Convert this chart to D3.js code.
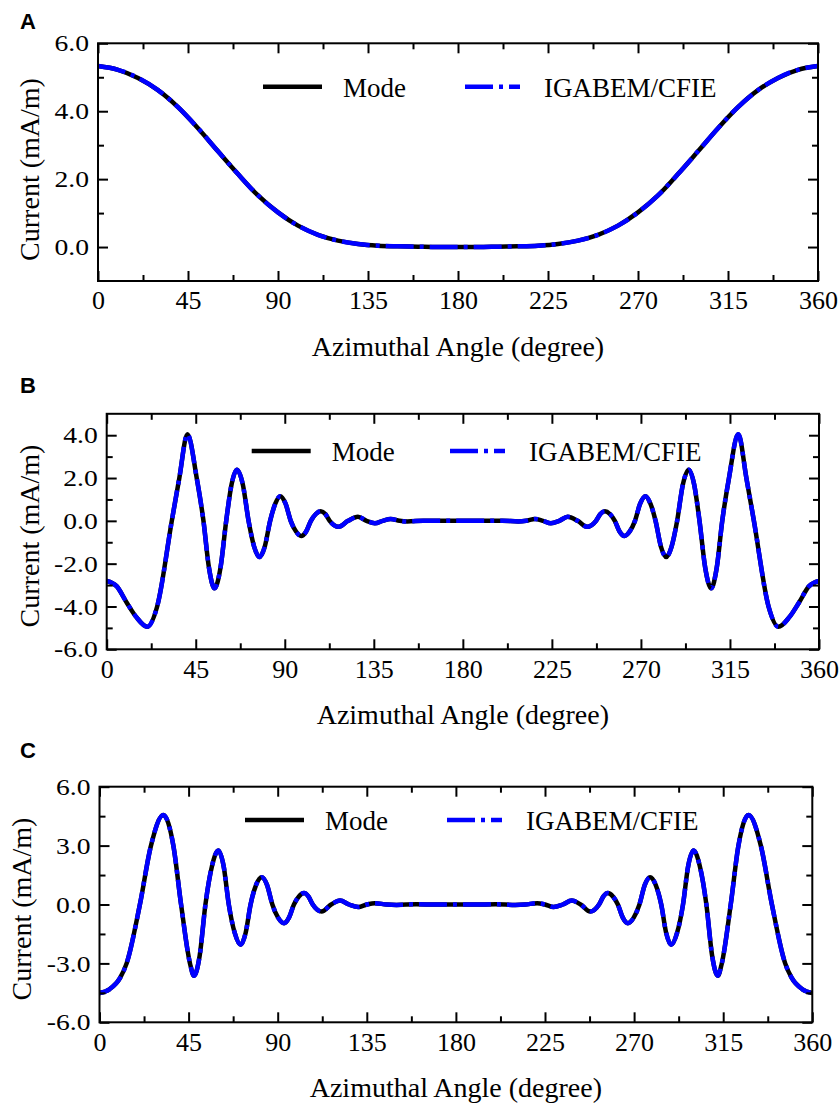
<!DOCTYPE html>
<html>
<head>
<meta charset="utf-8">
<script src="https://cdn.jsdelivr.net/npm/d3@7"></script>
<style>
  html, body { margin: 0; padding: 0; background: #fff; }
  svg { display: block; }
</style>
</head>
<body>
<svg id="fig" width="840" height="1106"></svg>
<script>
// Surface current density along the azimuthal angle for three cases (A, B, C):
// modal (analytical) solution vs. IGABEM/CFIE solution.

const seriesNames = ["Mode", "IGABEM/CFIE"];
const panelLetters = ["A", "B", "C"];
const xTitle = "Azimuthal Angle (degree)";
const yTitle = "Current (mA/m)";

const xTicks = [0, 45, 90, 135, 180, 225, 270, 315, 360];
const xMinorTicks = [22.5, 67.5, 112.5, 157.5, 202.5, 247.5, 292.5, 337.5];

// ---- Case A ----
const angleA = [0, 10, 20, 30, 40, 50, 60, 70, 80, 90, 100, 110, 120, 130, 140, 150, 160, 170, 180,
                190, 200, 210, 220, 230, 240, 250, 260, 270, 280, 290, 300, 310, 320, 330, 340, 350, 360];
const modeA  = [5.33, 5.22, 4.98, 4.62, 4.12, 3.50, 2.82, 2.15, 1.52, 1.02, 0.63, 0.36, 0.19, 0.09, 0.04, 0.02, 0.01, 0.00, 0.00,
                0.00, 0.01, 0.02, 0.04, 0.09, 0.19, 0.36, 0.63, 1.02, 1.52, 2.15, 2.82, 3.50, 4.12, 4.62, 4.98, 5.22, 5.33];
const igabemA = modeA;   // the two solutions coincide to plotting accuracy
const yDomainA = [-1, 6];
const yTicksA = [0, 2, 4, 6];
const yMinorA = [1, 3, 5];

// ---- Case B ----
const angleB = [0, 5, 10, 15, 20.5, 25.5, 32.9, 36.7, 40.8, 45.5, 48.9, 51.7, 54.5, 57.5, 60.4, 63.1, 65.8, 68.8,
                71.7, 74.5, 77.2, 79.9, 82.6, 85.2, 87.7, 90.4, 93.0, 95.7, 98.3, 100.8, 103.2, 105.7, 108.2, 110.5,
                112.7, 117.2, 122.0, 127.0, 131.3, 135.5, 139.5, 143.5, 148, 152, 160, 170, 180,
                190, 200, 208, 212, 216.5, 220.5, 224.5, 228.7, 233, 238, 242.8, 247.3,
                249.5, 251.8, 254.3, 256.8, 259.2, 261.7, 264.3, 267, 269.6, 272.3, 274.8, 277.4, 280.1, 282.8, 285.5, 288.3,
                291.2, 294.2, 296.9, 299.6, 302.5, 305.5, 308.3, 311.1, 314.5, 319.2, 323.3, 327.1, 334.5, 339.5, 345, 350, 355, 360];
const modeB  = [-2.81, -3.05, -3.80, -4.50, -4.95, -4.00, 0, 2.00, 4.05, 2.00, 0, -2.20, -3.15, -2.20, 0, 1.70, 2.39, 1.70,
                0, -1.20, -1.69, -1.20, 0, 0.80, 1.15, 0.80, 0, -0.50, -0.71, -0.50, 0, 0.32, 0.45, 0.32,
                0, -0.28, 0, 0.19, 0, -0.11, 0, 0.09, 0, -0.03, 0.01, 0, 0,
                0, 0.01, -0.03, 0, 0.09, 0, -0.11, 0, 0.19, 0, -0.28, 0,
                0.32, 0.45, 0.32, 0, -0.50, -0.71, -0.50, 0, 0.80, 1.15, 0.80, 0, -1.20, -1.69, -1.20, 0,
                1.70, 2.39, 1.70, 0, -2.20, -3.15, -2.20, 0, 2.00, 4.05, 2.00, 0, -4.00, -4.95, -4.50, -3.80, -3.05, -2.81];
const igabemB = modeB;
const yDomainB = [-6, 5];
const yTicksB = [-6, -4, -2, 0, 2, 4];
const yMinorB = [-5, -3, -1, 1, 3];

// ---- Case C ----
const angleC = [0, 5, 10.4, 13.7, 20.4, 26.0, 32.2, 37.3, 41.2, 45.7, 47.7, 50.6, 53.5, 56.8, 60.0, 62.7,
                65.3, 68.3, 71.3, 73.8, 76.3, 79.1, 81.9, 84.6, 87.3, 90.2, 93.2, 95.7, 98.2, 100.7, 103.3, 105.5,
                107.7, 112.2, 117.0, 121.5, 126.0, 130.7, 135.0, 139.0, 145, 150, 160, 170, 180,
                190, 200, 210, 215, 221, 225, 229.3, 234, 238.5, 243, 247.8, 252.3,
                254.5, 256.7, 259.3, 261.8, 264.3, 266.8, 269.8, 272.7, 275.4, 278.1, 280.9, 283.7, 286.2, 288.7, 291.7, 294.7,
                297.3, 300, 303.2, 306.5, 309.4, 312.3, 314.3, 318.8, 322.7, 327.8, 334, 339.6, 346.3, 349.6, 355, 360];
const modeC  = [-4.51, -4.32, -3.74, -3.00, 0, 3.00, 4.56, 3.00, 0, -3.00, -3.63, -2.60, 0, 1.95, 2.75, 1.95,
                0, -1.45, -2.05, -1.45, 0, 1.00, 1.39, 1.00, 0, -0.67, -0.95, -0.67, 0, 0.41, 0.58, 0.41,
                0, -0.36, 0, 0.20, 0, -0.13, 0, 0.07, 0, -0.02, 0.01, 0, 0,
                0, 0.01, -0.02, 0, 0.07, 0, -0.13, 0, 0.20, 0, -0.36, 0,
                0.41, 0.58, 0.41, 0, -0.67, -0.95, -0.67, 0, 1.00, 1.39, 1.00, 0, -1.45, -2.05, -1.45, 0,
                1.95, 2.75, 1.95, 0, -2.60, -3.63, -3.00, 0, 3.00, 4.56, 3.00, 0, -3.00, -3.74, -4.32, -4.51];
const igabemC = modeC;
const yDomainC = [-6, 6];
const yTicksC = [-6, -3, 0, 3, 6];
const yMinorC = [-4.5, -1.5, 1.5, 4.5];

// ---- layout & styles ----
const COLOR_MODE = "#000000";
const COLOR_IGA = "#0000ff";
const SERIF = "'Liberation Serif', 'Times New Roman', Times, serif";
const SANS = "'Liberation Sans', Arial, Helvetica, sans-serif";

const panels = [
  { letter: panelLetters[0], angle: angleA, mode: modeA, iga: igabemA, yDomain: yDomainA, yTicks: yTicksA, yMinor: yMinorA,
    left: 98, right: 818, top: 43.3, bottom: 281, letterY: 28.5, yTitleX: 38.5, yTitleY: 169.5,
    legY: 86.7, legBlackX: 263, legBlueX: 465 },
  { letter: panelLetters[1], angle: angleB, mode: modeB, iga: igabemB, yDomain: yDomainB, yTicks: yTicksB, yMinor: yMinorB,
    left: 106.7, right: 819, top: 413.8, bottom: 649.3, letterY: 393.3, yTitleX: 38.5, yTitleY: 536,
    legY: 451, legBlackX: 251.7, legBlueX: 450 },
  { letter: panelLetters[2], angle: angleC, mode: modeC, iga: igabemC, yDomain: yDomainC, yTicks: yTicksC, yMinor: yMinorC,
    left: 99.5, right: 812.3, top: 786.7, bottom: 1022.3, letterY: 758.3, yTitleX: 30.5, yTitleY: 909,
    legY: 820, legBlackX: 245, legBlueX: 447 }
];

const svg = d3.select("#fig");
const fmt = d => d.toFixed(1);

panels.forEach(p => {
  const x = d3.scaleLinear().domain([0, 360]).range([p.left, p.right]);
  const y = d3.scaleLinear().domain(p.yDomain).range([p.bottom, p.top]);
  const g = svg.append("g");

  // panel letter
  g.append("text")
    .attr("x", 20).attr("y", p.letterY)
    .attr("font-family", SANS).attr("font-weight", "bold").attr("font-size", 22)
    .text(p.letter);

  // curves: modal solution (solid black) under IGABEM/CFIE (blue dash-dot)
  const pts = p.angle.map((a, i) => [a, p.mode[i]]);
  const ptsIga = p.angle.map((a, i) => [a, p.iga[i]]);
  const line = d3.line().x(d => x(d[0])).y(d => y(d[1])).curve(d3.curveMonotoneX);

  g.append("path").datum(pts).attr("d", line)
    .attr("fill", "none").attr("stroke", COLOR_MODE).attr("stroke-width", 4.5);
  g.append("path").datum(ptsIga).attr("d", line)
    .attr("fill", "none").attr("stroke", COLOR_IGA).attr("stroke-width", 4.5)
    .attr("stroke-dasharray", "28,6,4,6");

  // axes: ticks point inward on all four sides
  const styleAxis = sel => {
    sel.select(".domain").remove();
    sel.selectAll(".tick line").attr("stroke", "#000").attr("stroke-width", 2);
  };
  const xAxisB = g.append("g").attr("transform", `translate(0,${p.bottom})`)
    .call(d3.axisBottom(x).tickValues(xTicks).tickSize(-10).tickSizeOuter(0).tickPadding(10).tickFormat(d3.format("d")))
    .call(styleAxis);
  xAxisB.selectAll(".tick text").attr("font-family", SERIF).attr("font-size", 26).attr("fill", "#000");
  g.append("g").attr("transform", `translate(0,${p.bottom})`)
    .call(d3.axisBottom(x).tickValues(xMinorTicks).tickSize(-6).tickSizeOuter(0).tickFormat(""))
    .call(styleAxis);
  g.append("g").attr("transform", `translate(0,${p.top})`)
    .call(d3.axisTop(x).tickValues(xTicks).tickSize(-10).tickSizeOuter(0).tickFormat(""))
    .call(styleAxis);
  g.append("g").attr("transform", `translate(0,${p.top})`)
    .call(d3.axisTop(x).tickValues(xMinorTicks).tickSize(-6).tickSizeOuter(0).tickFormat(""))
    .call(styleAxis);

  const yAxisL = g.append("g").attr("transform", `translate(${p.left},0)`)
    .call(d3.axisLeft(y).tickValues(p.yTicks).tickSize(-10).tickSizeOuter(0).tickPadding(9).tickFormat(fmt))
    .call(styleAxis);
  yAxisL.selectAll(".tick text")
    .attr("font-family", SERIF).attr("font-size", 24).attr("fill", "#000")
    .attr("lengthAdjust", "spacingAndGlyphs")
    .attr("textLength", function () { return this.getComputedTextLength() * 1.15; });
  g.append("g").attr("transform", `translate(${p.left},0)`)
    .call(d3.axisLeft(y).tickValues(p.yMinor).tickSize(-6).tickSizeOuter(0).tickFormat(""))
    .call(styleAxis);
  g.append("g").attr("transform", `translate(${p.right},0)`)
    .call(d3.axisRight(y).tickValues(p.yTicks).tickSize(-10).tickSizeOuter(0).tickFormat(""))
    .call(styleAxis);
  g.append("g").attr("transform", `translate(${p.right},0)`)
    .call(d3.axisRight(y).tickValues(p.yMinor).tickSize(-6).tickSizeOuter(0).tickFormat(""))
    .call(styleAxis);

  // frame
  g.append("rect")
    .attr("x", p.left).attr("y", p.top)
    .attr("width", p.right - p.left).attr("height", p.bottom - p.top)
    .attr("fill", "none").attr("stroke", "#000").attr("stroke-width", 2);

  // axis titles
  g.append("text")
    .attr("x", (p.left + p.right) / 2).attr("y", p.bottom + 75)
    .attr("text-anchor", "middle")
    .attr("font-family", SERIF).attr("font-size", 28)
    .text(xTitle);
  g.append("text")
    .attr("transform", `translate(${p.yTitleX},${p.yTitleY}) rotate(-90)`)
    .attr("text-anchor", "middle")
    .attr("font-family", SERIF).attr("font-size", 28)
    .text(yTitle);

  // legend
  g.append("line")
    .attr("x1", p.legBlackX).attr("x2", p.legBlackX + 59)
    .attr("y1", p.legY).attr("y2", p.legY)
    .attr("stroke", COLOR_MODE).attr("stroke-width", 4.5);
  g.append("text")
    .attr("x", p.legBlackX + 80).attr("y", p.legY + 10)
    .attr("font-family", SERIF).attr("font-size", 27)
    .text(seriesNames[0]);
  g.append("line")
    .attr("x1", p.legBlueX).attr("x2", p.legBlueX + 55)
    .attr("y1", p.legY).attr("y2", p.legY)
    .attr("stroke", COLOR_IGA).attr("stroke-width", 4.5)
    .attr("stroke-dasharray", "28,6,4,6");
  g.append("text")
    .attr("x", p.legBlueX + 79).attr("y", p.legY + 10)
    .attr("font-family", SERIF).attr("font-size", 27)
    .text(seriesNames[1]);
});
</script>
</body>
</html>
